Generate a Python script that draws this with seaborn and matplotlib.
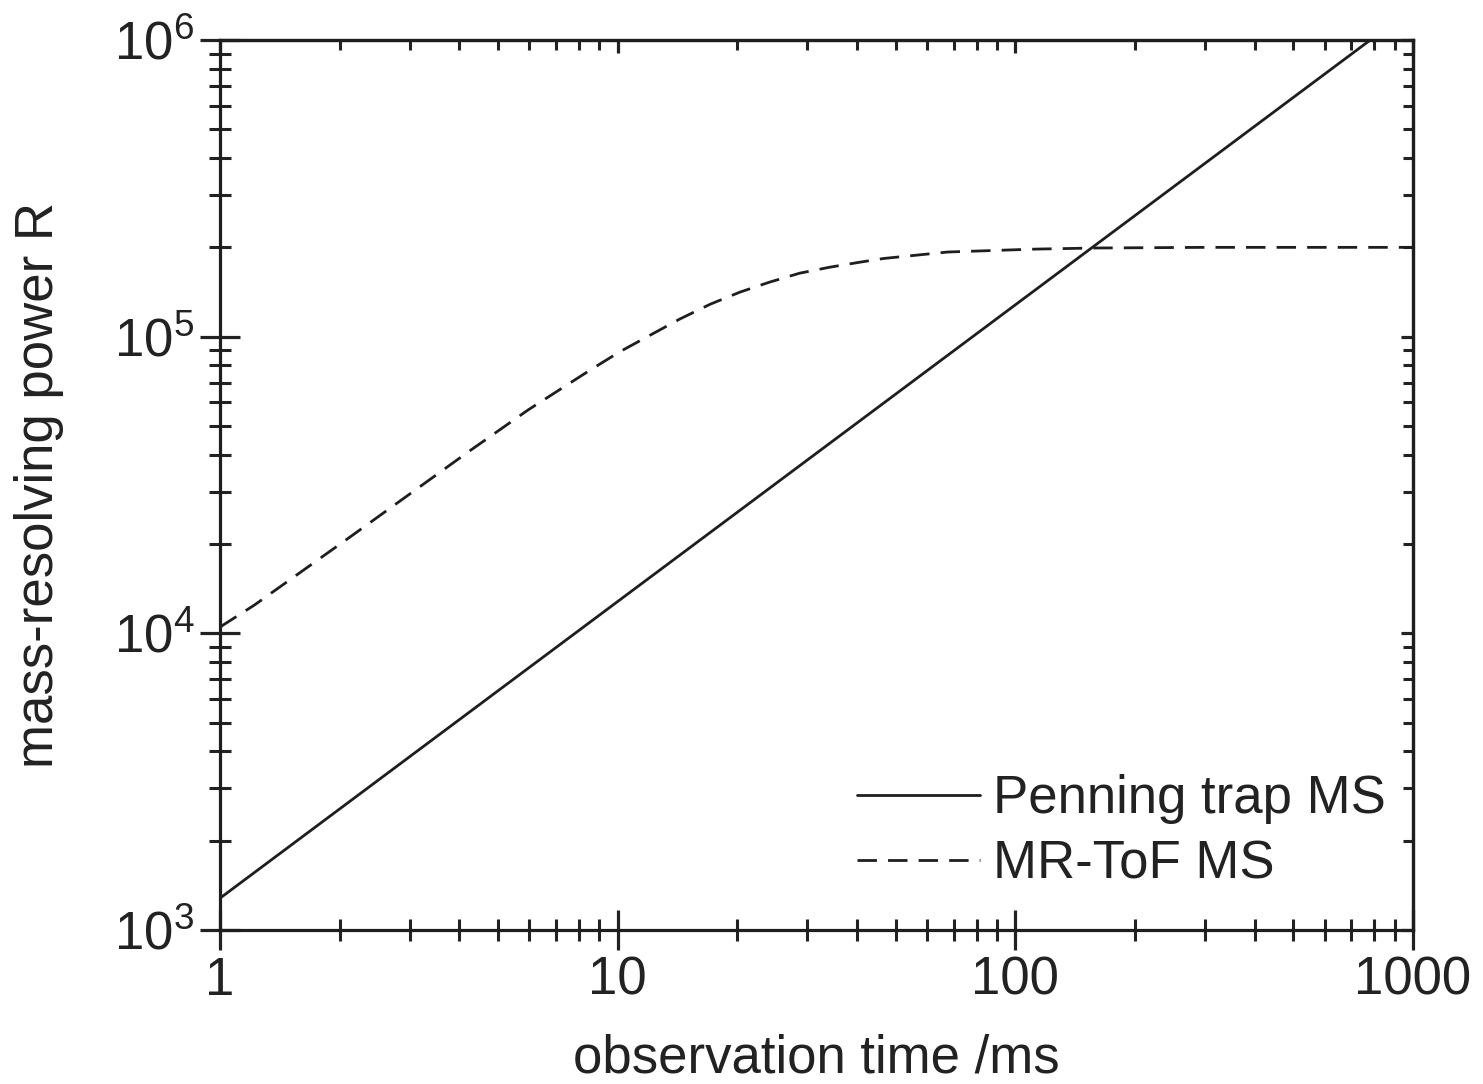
import numpy as np
import pandas as pd
import seaborn as sns
import matplotlib.pyplot as plt
from matplotlib.ticker import NullFormatter, FixedLocator, FixedFormatter, LogLocator

# -------------------------------
# DATA
# -------------------------------
# Penning trap MS: straight line on log-log axes
t_penning = [1, 781]
R_penning = [1280, 1000000]

# MR-ToF MS: rises and saturates near 2e5
t_mrtof = [1, 1.22, 2.1, 2.97, 4.2, 5.95, 8.52, 10.1, 12.06, 14.3, 17.1, 20.3, 24.1,
           28.7, 34.2, 40.7, 46.7, 67.6, 112, 159, 300, 1000]
R_mrtof = [10500, 12450, 20900, 29200, 40800, 56600, 77100, 88800, 101100, 114500,
           128700, 141300, 152700, 163700, 171500, 178300, 183500, 192900, 197300,
           199000, 200000, 200000]

x_ticks = [1, 10, 100, 1000]
x_ticklabels = ["1", "10", "100", "1000"]

# -------------------------------
# STYLE
# -------------------------------
sns.set_style("ticks")
plt.rcParams["font.family"] = ["Liberation Sans", "DejaVu Sans"]
plt.rcParams["mathtext.fontset"] = "custom"
plt.rcParams["mathtext.rm"] = "Liberation Sans"
plt.rcParams["mathtext.default"] = "regular"
plt.rcParams["text.color"] = "#222222"
plt.rcParams["axes.labelcolor"] = "#222222"
plt.rcParams["xtick.color"] = "#222222"
plt.rcParams["ytick.color"] = "#222222"

line_color = "#1e1e1e"
fs = 38

fig = plt.figure(figsize=(14.83, 10.84), dpi=100)
ax = fig.add_axes([220 / 1483, 1 - 930 / 1084, (1413 - 220) / 1483, (930 - 40) / 1084])

df_pen = pd.DataFrame({"t": t_penning, "R": R_penning})
df_tof = pd.DataFrame({"t": t_mrtof, "R": R_mrtof})

sns.lineplot(data=df_pen, x="t", y="R", ax=ax, color=line_color, lw=2.0,
             label="Penning trap MS")
sns.lineplot(data=df_tof, x="t", y="R", ax=ax, color=line_color, lw=2.0,
             linestyle=(0, (7, 4)), label="MR-ToF MS")

ax.set_xscale("log")
ax.set_yscale("log")
ax.set_xlim(1, 1000)
ax.set_ylim(1e3, 1e6)

# -------------------------------
# AXES / TICKS
# -------------------------------
for sp in ax.spines.values():
    sp.set_visible(True)
    sp.set_linewidth(2.3)
    sp.set_color(line_color)

ax.xaxis.set_major_locator(FixedLocator(x_ticks))
ax.xaxis.set_major_formatter(FixedFormatter(x_ticklabels))
ax.xaxis.set_minor_locator(LogLocator(base=10, subs=np.arange(2, 10)))
ax.xaxis.set_minor_formatter(NullFormatter())
ax.yaxis.set_minor_locator(LogLocator(base=10, subs=np.arange(2, 10)))
ax.yaxis.set_minor_formatter(NullFormatter())

ax.tick_params(which="major", direction="inout", length=29, width=2.3,
               labelsize=fs, top=False, right=False)
ax.tick_params(which="minor", direction="inout", length=16, width=2.2,
               top=False, right=False)
ax.tick_params(axis="x", which="major", pad=4)
ax.tick_params(axis="y", which="major", pad=4)

# inward-only ticks on top and right
sec_x = ax.secondary_xaxis("top")
sec_y = ax.secondary_yaxis("right")
for sec, axis in [(sec_x, sec_x.xaxis), (sec_y, sec_y.yaxis)]:
    axis.set_major_locator(LogLocator(base=10))
    axis.set_minor_locator(LogLocator(base=10, subs=np.arange(2, 10)))
    axis.set_major_formatter(NullFormatter())
    axis.set_minor_formatter(NullFormatter())
    sec.tick_params(which="major", direction="in", length=9, width=2.3)
    sec.tick_params(which="minor", direction="in", length=7, width=2.2)
    for sp in sec.spines.values():
        sp.set_linewidth(2.3)
        sp.set_color(line_color)

ax.set_xlabel("observation time /ms", fontsize=fs)
ax.set_ylabel("mass-resolving power R", fontsize=fs)
ax.xaxis.set_label_coords(0.5, -0.116)
ax.yaxis.set_label_coords(-0.131, 0.5)

leg = ax.legend(loc="lower right", bbox_to_anchor=(0.977, 0.045), frameon=False,
                fontsize=fs, handlelength=2.33, handletextpad=0.25,
                labelspacing=0.3, borderpad=0, borderaxespad=0)

fig.savefig("out.png", dpi=100)
